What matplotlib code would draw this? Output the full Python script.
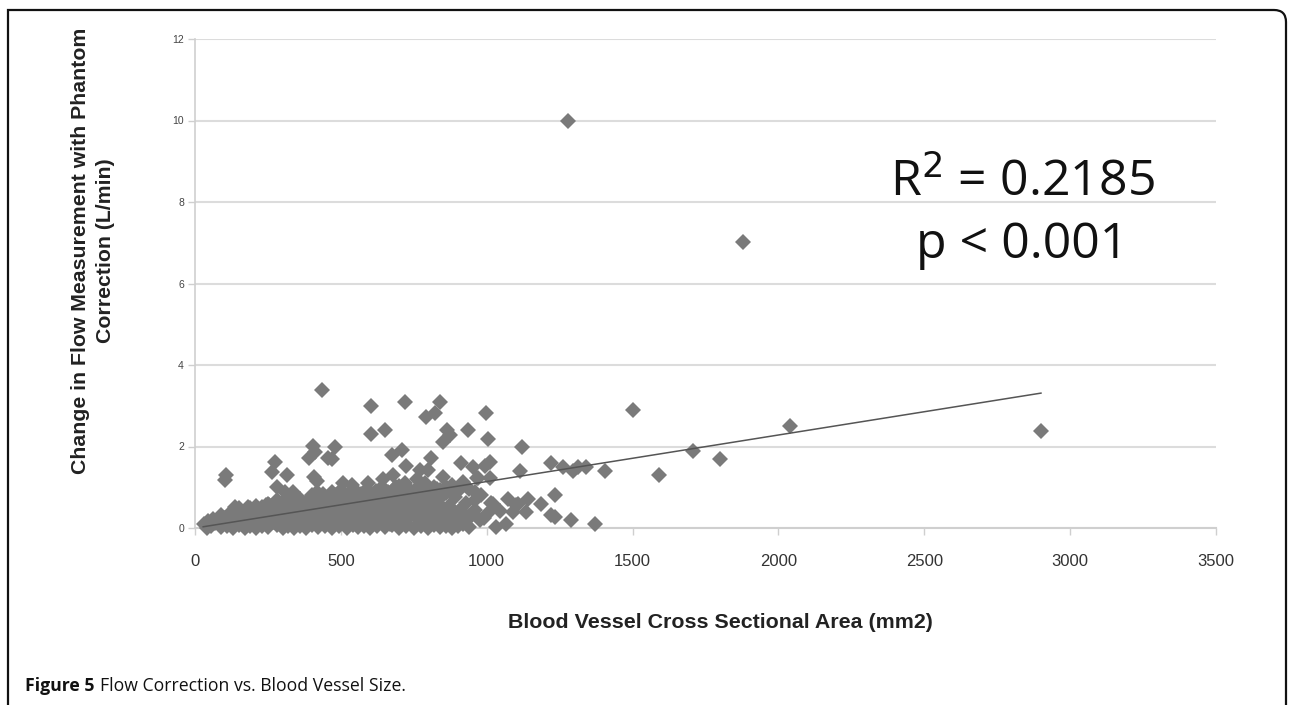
import matplotlib
matplotlib.use("Agg")
import matplotlib.pyplot as plt
from matplotlib.path import Path
from matplotlib.patches import PathPatch

# ---------------- data ----------------
# isolated / readable points (area mm2, change L/min)
scatter_x = [1277, 1880, 437, 602, 720, 841, 793, 823, 999,
             602, 652, 864, 873, 850, 935, 1005, 1122, 1501, 2038, 2900, 1707, 1798, 1590,
             405, 411, 391, 479, 457, 468,
             711, 677, 810, 911, 953, 274, 263, 316, 106, 103, 409, 417,
             725, 771, 799, 679, 645, 594, 508, 537, 280, 308, 337, 417, 919, 965, 862,
             1404, 1222, 1262, 1296, 1313, 1341, 1113, 993, 1010, 1010, 970, 919, 959, 959,
             930, 1016, 1073, 1141, 1107, 1187, 1233, 1045, 1090, 1136, 1222, 1233, 976,
             1033, 1067, 1290, 1370, 913, 919, 1005, 1101, 1022,
             760, 790, 830, 860, 890, 760, 720, 690, 850, 880, 940, 980, 960, 990, 940,
             910, 870, 900, 183, 137, 245, 40]
scatter_y = [10.0, 7.02, 3.39, 3.0, 3.1, 3.1, 2.73, 2.81, 2.81,
             2.31, 2.4, 2.4, 2.28, 2.12, 2.4, 2.18, 2.0, 2.9, 2.5, 2.39, 1.9, 1.69, 1.3,
             2.01, 1.87, 1.71, 2.0, 1.71, 1.69,
             1.91, 1.79, 1.71, 1.6, 1.5, 1.63, 1.38, 1.3, 1.3, 1.18, 1.26, 1.16,
             1.52, 1.42, 1.42, 1.3, 1.2, 1.1, 1.1, 1.06, 1.01, 0.89, 0.89, 0.89, 1.14, 1.22, 1.01,
             1.4, 1.59, 1.5, 1.4, 1.5, 1.5, 1.4, 1.52, 1.63, 1.22, 1.22, 1.1, 0.89, 0.69,
             0.61, 0.61, 0.72, 0.72, 0.6, 0.6, 0.8, 0.42, 0.4, 0.39, 0.32, 0.28, 0.2,
             0.02, 0.11, 0.2, 0.1, 0.28, 0.11, 0.36, 0.56, 0.6,
             1.2, 1.1, 0.95, 0.85, 0.75, 0.95, 1.1, 1.0, 1.25, 1.05, 0.95, 0.8, 0.45, 0.25, 0.3,
             0.45, 0.55, 0.9, 0.52, 0.52, 0.56, 0.12]

# dense band near the bottom (read row by row)
band_x = [40, 90, 130, 170, 210, 250, 300, 340, 380, 420, 470, 520, 560, 600, 650, 700, 750, 800, 840, 880, 940,
          30, 70, 110, 150, 190, 230, 270, 320, 360, 400, 440, 490, 540, 580, 620, 670, 720, 770, 820, 860, 900,
          60, 100, 140, 180, 220, 260, 300, 345, 390, 430, 470, 510, 555, 600, 640, 690, 735, 785, 830, 880,
          120, 160, 200, 240, 285, 325, 365, 410, 450, 495, 535, 575, 620, 660, 705, 750, 800, 850, 900,
          150, 190, 230, 270, 310, 350, 395, 440, 480, 525, 565, 610, 650, 690, 735, 780, 830,
          250, 300, 340, 380, 430, 470, 510, 555, 600, 640, 685, 720, 760, 810,
          330, 420, 460, 500, 545, 585, 630, 670, 710, 750, 790,
          470, 560, 620, 660, 700, 740, 780,
          640, 700, 760, 820,
          55, 110, 150, 190, 230, 280, 320, 360, 400, 445, 495, 540, 580, 625, 675, 725, 775, 820, 860, 900,
          45, 85, 125, 165, 205, 245, 285, 330, 370, 415, 455, 500, 545, 590, 630, 680, 725, 770, 810, 850, 895, 930,
          90, 130, 170, 210, 255, 295, 335, 375, 420, 460, 505, 545, 590, 635, 675, 720, 765, 810, 860, 905,
          135, 175, 215, 260, 300, 340, 385, 425, 465, 510, 550, 595, 640, 680, 725, 770, 815, 870,
          210, 255, 290, 330, 370, 415, 455, 500, 540, 585, 630, 670, 710, 755, 800, 845,
          280, 360, 400, 445, 490, 530, 575, 615, 655, 700, 740, 780, 825,
          400, 440, 480, 525, 570, 610, 650, 690, 730, 770, 810, 850,
          500, 590, 640, 680, 720, 790, 840]
band_y = [0.0, 0.02, 0.0, 0.01, 0.0, 0.03, 0.0, 0.01, 0.0, 0.02, 0.0, 0.01, 0.03, 0.0, 0.02, 0.0, 0.01, 0.0, 0.03, 0.0, 0.02,
          0.1, 0.13, 0.11, 0.14, 0.12, 0.1, 0.15, 0.12, 0.13, 0.1, 0.14, 0.12, 0.11, 0.15, 0.12, 0.1, 0.13, 0.14, 0.11, 0.12, 0.15,
          0.22, 0.25, 0.27, 0.24, 0.26, 0.23, 0.28, 0.25, 0.24, 0.27, 0.26, 0.23, 0.25, 0.28, 0.24, 0.26, 0.27, 0.23, 0.25, 0.24,
          0.36, 0.39, 0.37, 0.4, 0.38, 0.36, 0.41, 0.38, 0.37, 0.4, 0.39, 0.36, 0.38, 0.41, 0.37, 0.39, 0.38, 0.36, 0.4,
          0.48, 0.5, 0.52, 0.49, 0.51, 0.5, 0.53, 0.49, 0.52, 0.5, 0.48, 0.51, 0.53, 0.5, 0.49, 0.52, 0.5,
          0.6, 0.63, 0.61, 0.64, 0.62, 0.6, 0.65, 0.62, 0.61, 0.64, 0.63, 0.6, 0.62, 0.65,
          0.75, 0.74, 0.77, 0.76, 0.73, 0.78, 0.75, 0.77, 0.74, 0.76, 0.78,
          0.88, 0.87, 0.9, 0.89, 0.86, 0.9, 0.88,
          1.0, 1.02, 0.99, 1.01,
          0.06, 0.05, 0.07, 0.06, 0.05, 0.07, 0.06, 0.05, 0.07, 0.06, 0.05, 0.07, 0.06, 0.05, 0.07, 0.06, 0.05, 0.07, 0.06, 0.05,
          0.18, 0.2, 0.19, 0.18, 0.2, 0.19, 0.18, 0.2, 0.19, 0.18, 0.2, 0.19, 0.18, 0.2, 0.19, 0.18, 0.2, 0.19, 0.18, 0.2, 0.19, 0.18,
          0.31, 0.33, 0.32, 0.31, 0.33, 0.32, 0.31, 0.33, 0.32, 0.31, 0.33, 0.32, 0.31, 0.33, 0.32, 0.31, 0.33, 0.32, 0.31, 0.33,
          0.43, 0.45, 0.44, 0.43, 0.45, 0.44, 0.43, 0.45, 0.44, 0.43, 0.45, 0.44, 0.43, 0.45, 0.44, 0.43, 0.45, 0.44,
          0.55, 0.57, 0.56, 0.55, 0.57, 0.56, 0.55, 0.57, 0.56, 0.55, 0.57, 0.56, 0.55, 0.57, 0.56, 0.55,
          0.68, 0.7, 0.69, 0.68, 0.7, 0.69, 0.68, 0.7, 0.69, 0.68, 0.7, 0.69, 0.68,
          0.81, 0.83, 0.82, 0.81, 0.83, 0.82, 0.81, 0.83, 0.82, 0.81, 0.83, 0.82,
          0.94, 0.96, 0.95, 0.94, 0.96, 0.95, 0.94]

# linear trend line end points
trend_x = [28, 2900]
trend_y = [0.03, 3.31]

x_ticks = [0, 500, 1000, 1500, 2000, 2500, 3000, 3500]
y_ticks = [0, 2, 4, 6, 8, 10, 12]

x_label = "Blood Vessel Cross Sectional Area (mm2)"
y_label = "Change in Flow Measurement with Phantom\nCorrection (L/min)"
r2_text = "R$^2$ = 0.2185"
p_text = "p < 0.001"

# ---------------- figure ----------------
W, H = 1292, 705
fig = plt.figure(figsize=(W / 100, H / 100), dpi=100)
fig.patch.set_facecolor("white")

ax_l, ax_r, ax_b, ax_t = 195, 1216, 528, 39
ax = fig.add_axes([ax_l / W, 1 - ax_b / H, (ax_r - ax_l) / W, (ax_b - ax_t) / H])
ax.set_xlim(0, 3500)
ax.set_ylim(0, 12)

for s in ["top", "right"]:
    ax.spines[s].set_visible(False)
ax.spines["left"].set_color("#cfcfcf")
ax.spines["bottom"].set_color("#cfcfcf")
ax.spines["left"].set_linewidth(1.2)
ax.spines["bottom"].set_linewidth(1.5)

ax.set_yticks(y_ticks)
ax.set_xticks(x_ticks)
ax.set_yticklabels([str(v) for v in y_ticks], fontsize=7.5, color="#444444", family="Liberation Sans")
ax.set_xticklabels([str(v) for v in x_ticks], fontsize=12, color="#333333", family="Liberation Sans")
ax.tick_params(axis="y", length=5, color="#cfcfcf", width=1.0, pad=3)
ax.tick_params(axis="x", length=5, color="#cfcfcf", width=1.0, pad=14)
ax.yaxis.grid(True, color="#dcdcdc", linewidth=1.5)
ax.set_axisbelow(True)

ax.plot(band_x, band_y, linestyle="none", marker="D", markersize=8.2,
        markerfacecolor="#7a7a7a", markeredgewidth=0, clip_on=False, zorder=3)
ax.plot(scatter_x, scatter_y, linestyle="none", marker="D", markersize=8.2,
        markerfacecolor="#7a7a7a", markeredgewidth=0, clip_on=False, zorder=3)
ax.plot(trend_x, trend_y, color="#555555", linewidth=1.1, zorder=4)

ax.text(1022 / W, 1 - 183 / H, r2_text, transform=fig.transFigure, fontsize=36,
        family="Open Sans", ha="center", va="center", color="#111111")
ax.text(1022 / W, 1 - 245 / H, p_text, transform=fig.transFigure, fontsize=36,
        family="Open Sans", ha="center", va="center", color="#111111")

fig.text(93 / W, 1 - 251 / H, y_label, rotation=90, fontsize=15.3, fontweight="bold",
         family="Liberation Sans", ha="center", va="center", color="#222222", linespacing=1.45)
fig.text(720 / W, 1 - 622 / H, x_label, fontsize=15.4, fontweight="bold",
         family="Liberation Sans", ha="center", va="center", color="#222222")

# caption
t1 = fig.text(25 / W, 1 - 686 / H, "Figure 5", fontsize=12.7, fontweight="bold",
              family="Open Sans", ha="left", va="center", color="#111111")
fig.canvas.draw()
bb = t1.get_window_extent()
fig.text((bb.x1 + 5) / W, 1 - 686 / H, "Flow Correction vs. Blood Vessel Size.", fontsize=12.7,
         family="Open Sans", ha="left", va="center", color="#111111")

# frame: left line, top line, rounded top-right corner, right line
r = 12
verts = [(8, H + 5), (8, 10), (1286 - r, 10), (1286, 10), (1286, 10 + r), (1286, H + 5)]
codes = [Path.MOVETO, Path.LINETO, Path.LINETO, Path.CURVE3, Path.CURVE3, Path.LINETO]
verts_fig = [(vx / W, 1 - vy / H) for vx, vy in verts]
patch = PathPatch(Path(verts_fig, codes), transform=fig.transFigure, fill=False,
                  edgecolor="#111111", linewidth=1.6)
fig.patches.append(patch)

fig.savefig("out.png", dpi=100)
